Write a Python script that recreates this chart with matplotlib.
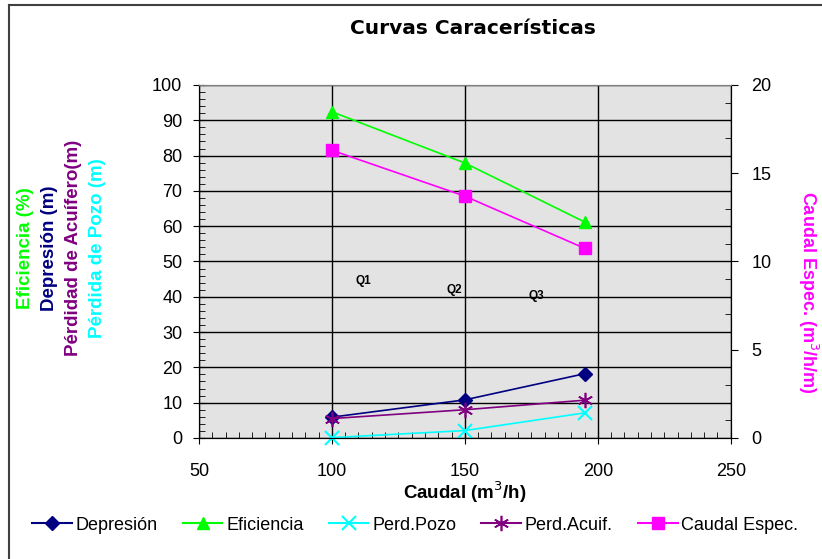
import matplotlib
matplotlib.use("Agg")
import matplotlib.pyplot as plt
from matplotlib.ticker import MultipleLocator
from matplotlib.lines import Line2D

plt.rcParams['font.family'] = ['Liberation Sans', 'DejaVu Sans']

# data
caudal = [100, 150, 195]
depresion = [5.9, 10.8, 18.2]
eficiencia = [92.4, 77.9, 61.2]
perd_pozo = [0.1, 2.1, 7.1]
perd_acuif = [5.5, 8.0, 10.7]
caudal_espec = [16.3, 13.7, 10.75]

q_labels = ['Q1', 'Q2', 'Q3']
q_x = [112, 146, 177]
q_y = [44.5, 42, 40.2]

fig = plt.figure(figsize=(8.22, 5.59), dpi=100)
ax = fig.add_axes([0.242, 0.2165, 0.647, 0.6315])
ax.set_facecolor('#e3e3e3')

ax.plot(caudal, depresion, color='#000080', marker='D', ms=7, lw=1.2)
ax.plot(caudal, eficiencia, color='#00ff00', marker='^', ms=9, lw=1.2)
ax.plot(caudal, perd_pozo, color='#00ffff', marker='x', ms=10, mew=1.5, lw=1.2, clip_on=False)
ax.plot(caudal, perd_acuif, color='#800080', marker=(6, 2, 0), ms=11, mew=1.2, lw=1.2)

ax2 = ax.twinx()
ax2.plot(caudal, caudal_espec, color='#ff00ff', marker='s', ms=8, lw=1.2)

for t, x, y in zip(q_labels, q_x, q_y):
    ax.text(x, y, t, fontsize=8.5, fontweight='bold', ha='center', va='center')

ax.set_xlim(50, 250)
ax.set_ylim(0, 100)
ax2.set_ylim(0, 20)
ax.xaxis.set_major_locator(MultipleLocator(50))
ax.xaxis.set_minor_locator(MultipleLocator(5))
ax.yaxis.set_major_locator(MultipleLocator(10))
ax.yaxis.set_minor_locator(MultipleLocator(2))
ax2.yaxis.set_major_locator(MultipleLocator(5))
ax2.yaxis.set_minor_locator(MultipleLocator(1))

ax.grid(True, which='major', color='black', lw=1)
ax.tick_params(which='major', direction='inout', length=8, labelsize=13, pad=8)
ax.tick_params(which='minor', direction='in', length=4)
ax2.tick_params(which='major', direction='out', length=5, labelsize=13, pad=10)
ax2.tick_params(which='minor', direction='in', length=4)
ax.tick_params(axis='x', pad=14)
for a in (ax, ax2):
    for s in a.spines.values():
        s.set_color('black')
    a.spines['top'].set_color('#808080')

ax.set_xlabel('Caudal (m$^3$/h)', fontsize=13.5, fontweight='bold', labelpad=0)
fig.text(808 / 822, 1 - 292 / 559, 'Caudal Espec. (m$^3$/h/m)', fontsize=13,
         fontweight='bold', color='#ff00ff', rotation=270, ha='center', va='center')

left_labels = ['Eficiencia (%)', 'Depresión (m)', 'Pérdidad de Acuífero(m)', 'Pérdida de Pozo (m)']
left_colors = ['#00ff00', '#000080', '#800080', '#00ffff']
left_x = [25, 49, 73, 97]
for t, c, x in zip(left_labels, left_colors, left_x):
    fig.text(x / 822, 1 - 248 / 559, t, rotation=90, color=c, fontsize=13.5,
             fontweight='bold', ha='center', va='center')

fig.text(473 / 822, 1 - 28 / 559, 'Curvas Caracerísticas', fontsize=14.5,
         fontweight='bold', ha='center', va='center', family='DejaVu Sans')

handles = [
    Line2D([], [], color='#000080', marker='D', ms=7),
    Line2D([], [], color='#00ff00', marker='^', ms=9),
    Line2D([], [], color='#00ffff', marker='x', ms=10, mew=1.5),
    Line2D([], [], color='#800080', marker=(6, 2, 0), ms=11, mew=1.2),
    Line2D([], [], color='#ff00ff', marker='s', ms=8),
]
names = ['Depresión', 'Eficiencia', 'Perd.Pozo', 'Perd.Acuif.', 'Caudal Espec.']
fig.legend(handles, names, loc='center', bbox_to_anchor=(0.505, 1 - 525 / 559),
           ncol=5, frameon=False, fontsize=13, handlelength=2.2,
           handletextpad=0.2, columnspacing=1.4)

# outer frame lines (left and top)
fig.add_artist(Line2D([9 / 822, 9 / 822], [0, 1 - 5 / 559], color='#404040', lw=1.5))
fig.add_artist(Line2D([9 / 822, 1], [1 - 5 / 559, 1 - 5 / 559], color='#404040', lw=1.5))

fig.savefig('out.png', dpi=100)
